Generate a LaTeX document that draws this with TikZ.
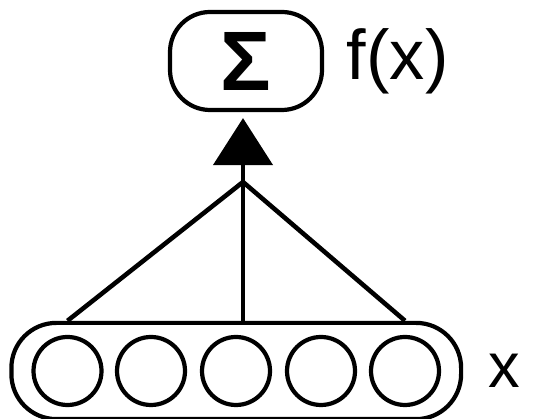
\documentclass[tikz,border=0pt]{standalone}
\usepackage{fontspec}
\setmainfont{Liberation Sans}
\usetikzlibrary{arrows.meta, positioning, fit, calc}
\tikzset{
  sumbox/.style={
    rectangle, rounded corners=0.8cm, draw=black, line width=2.4pt,
    minimum width=3.04cm, minimum height=1.96cm, inner sep=0pt
  },
  unit/.style={
    circle, draw=black, line width=2.4pt, minimum size=1.36cm, inner sep=0pt
  },
  layerbox/.style={
    rectangle, rounded corners=0.9cm, draw=black, line width=2.4pt,
    inner xsep=0.4cm, inner ysep=0.24cm
  },
  lbl/.style={inner sep=0pt, font=\fontsize{36}{40}\selectfont},
  link/.style={line width=2.6pt, black}
}

\begin{document}
\begin{tikzpicture}
        \useasboundingbox (0,0) rectangle (10.74,8.38);
        % Summe
        \node[sumbox] (sum) at (4.92,7.16)
          {\fontsize{48}{52}\selectfont\textbf{Σ}};
        \node[lbl, right=0.45cm of sum, font=\fontsize{40}{44}\selectfont]
          (fx) {f(x)};
        % Eingabe
        \foreach \i/\xx in {1/1.35, 2/3.02, 3/4.72, 4/6.42, 5/8.1}
          \node[unit] (c\i) at (\xx,0.96) {};
        \node[layerbox, fit=(c1)(c5)] (inp) {};
        \node[lbl, right=0.5cm of inp] (xin) {x};
        % Verbindungen
        \coordinate (hub) at (4.86,4.74);
        \draw[link] (c1 |- inp.north) -- (hub);
        \draw[link] (hub |- inp.north) -- (hub);
        \draw[link] (c5 |- inp.north) -- (hub);
        \draw[link, -{Triangle[length=0.94cm, width=1.18cm]},
          shorten >=0.12cm] (hub) -- (hub |- sum.south);
      \end{tikzpicture}
\end{document}
